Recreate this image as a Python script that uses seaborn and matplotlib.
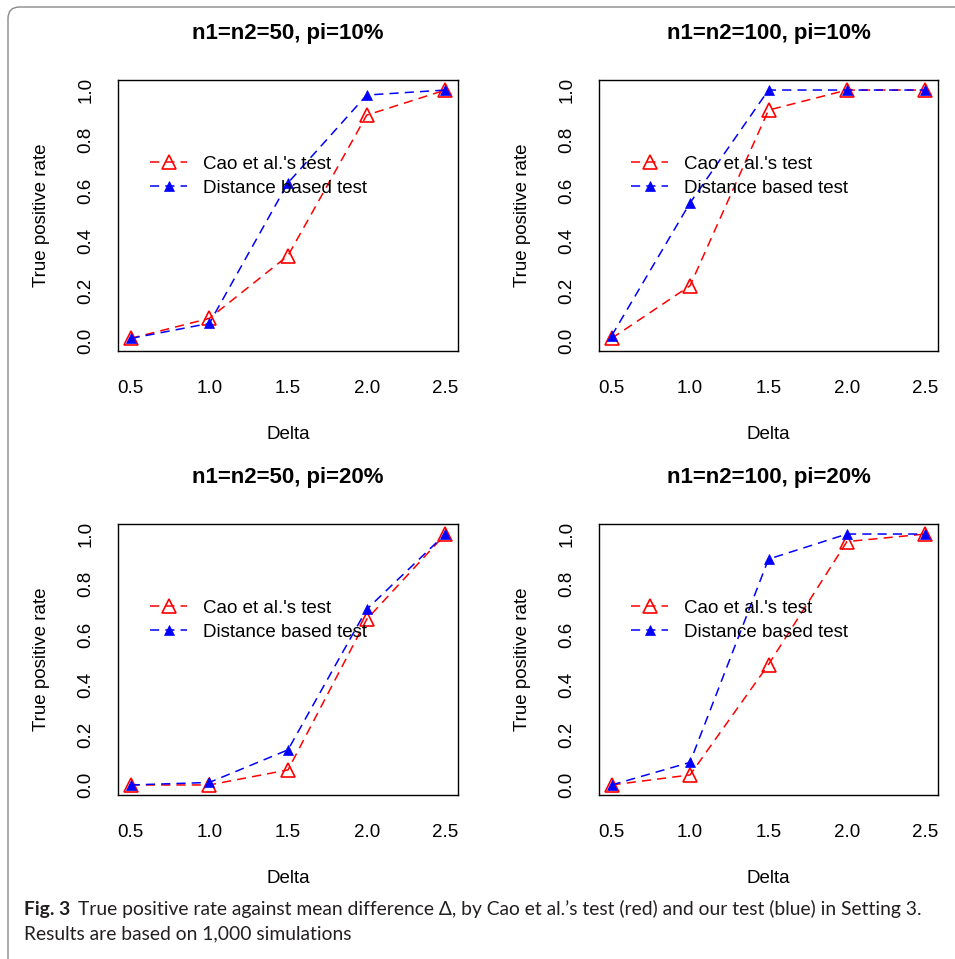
import numpy as np
import pandas as pd
import matplotlib
matplotlib.use("Agg")
import matplotlib.pyplot as plt
from matplotlib.patches import FancyBboxPatch
import seaborn as sns

# Simulation settings and results
delta = [0.5, 1.0, 1.5, 2.0, 2.5]
titles = ["n1=n2=50, pi=10%", "n1=n2=100, pi=10%",
          "n1=n2=50, pi=20%", "n1=n2=100, pi=20%"]
cao_tpr = [
    [0.01, 0.09, 0.34, 0.90, 1.00],
    [0.01, 0.22, 0.92, 1.00, 1.00],
    [0.00, 0.00, 0.06, 0.66, 1.00],
    [0.00, 0.04, 0.48, 0.97, 1.00],
]
dist_tpr = [
    [0.01, 0.07, 0.63, 0.98, 1.00],
    [0.02, 0.55, 1.00, 1.00, 1.00],
    [0.00, 0.01, 0.14, 0.70, 1.00],
    [0.00, 0.09, 0.90, 1.00, 1.00],
]
series_names = ["Cao et al.'s test", "Distance based test"]
x_ticks = [0.5, 1.0, 1.5, 2.0, 2.5]
y_ticks = [0.0, 0.2, 0.4, 0.6, 0.8, 1.0]

sns.set_style("white")
plt.rcParams["font.family"] = ["Liberation Sans", "DejaVu Sans"]

W, H = 955, 959
fig = plt.figure(figsize=(W / 100, H / 100), dpi=100)

# Frame around the figure and caption
frame = FancyBboxPatch((8 / W, 1 - 1000 / H), 1.2, (1000 - 7) / H,
                       boxstyle="round,pad=0,rounding_size=0.012",
                       transform=fig.transFigure, fill=False,
                       edgecolor="#8a8a8a", linewidth=1.0, clip_on=False)
fig.patches.append(frame)

# Panel rectangles in pixels: left, top, right, bottom
rects = [(118, 80, 458, 351), (599, 80, 938, 351),
         (118, 524, 458, 795), (599, 524, 938, 795)]

FS = 13.5
dash = (0, (6, 4))
for i, (l, t, r, b) in enumerate(rects):
    ax = fig.add_axes([l / W, 1 - b / H, (r - l) / W, (b - t) / H])
    df = pd.DataFrame({"Delta": delta * 2,
                       "rate": cao_tpr[i] + dist_tpr[i],
                       "test": [series_names[0]] * 5 + [series_names[1]] * 5})
    sns.lineplot(data=df[df.test == series_names[0]], x="Delta", y="rate",
                 ax=ax, color="red", marker="^", markersize=10,
                 markerfacecolor="none", markeredgecolor="red",
                 markeredgewidth=1.2, linestyle=dash, linewidth=1.1,
                 label=series_names[0])
    sns.lineplot(data=df[df.test == series_names[1]], x="Delta", y="rate",
                 ax=ax, color="blue", marker="^", markersize=7.5,
                 markerfacecolor="blue", markeredgecolor="blue",
                 markeredgewidth=0.5, linestyle=dash, linewidth=1.1,
                 label=series_names[1])
    ax.set_xlim(0.42, 2.58)
    ax.set_ylim(-0.04, 1.04)
    ax.set_xticks(x_ticks)
    ax.set_xticklabels([f"{v:.1f}" for v in x_ticks])
    ax.set_yticks(y_ticks)
    ax.set_yticklabels([f"{v:.1f}" for v in y_ticks], rotation=90, va="center")
    ax.tick_params(axis="both", direction="out", length=8, width=1.0,
                   color="black", labelsize=FS, labelcolor="black")
    ax.tick_params(axis="x", pad=13)
    ax.tick_params(axis="y", pad=9)
    for s in ax.spines.values():
        s.set_visible(True)
        s.set_color("black")
        s.set_linewidth(1.0)
    ax.set_xlabel("Delta", fontsize=FS, labelpad=21, color="black")
    ax.set_ylabel("True positive rate", fontsize=FS, labelpad=20, color="black")
    ax.set_title(titles[i], fontsize=16, fontweight="bold", pad=29.5, color="black")
    leg = ax.legend(loc="upper left", bbox_to_anchor=(0.094, 0.72),
                    frameon=False, fontsize=FS, handlelength=2.0,
                    handletextpad=0.85, labelspacing=0.36, borderpad=0,
                    borderaxespad=0)
    for txt in leg.get_texts():
        txt.set_color("black")

# Caption
cap_font = ["Lato", "DejaVu Sans"]
cap_fs = 13.9
cap_col = "#231f20"
renderer = fig.canvas.get_renderer()
t1 = fig.text(24 / W, 1 - 909 / H, "Fig. 3", fontsize=cap_fs, fontweight="bold",
              family=cap_font, va="center", color=cap_col)
ext = t1.get_window_extent(renderer)
fig.text(ext.x1 / W + 8 / W, 1 - 909 / H,
         "True positive rate against mean difference Δ, by Cao et al.’s test (red) "
         "and our test (blue) in Setting 3.",
         fontsize=cap_fs, family=cap_font, va="center", color=cap_col)
fig.text(24 / W, 1 - 934 / H, "Results are based on 1,000 simulations",
         fontsize=cap_fs, family=cap_font, va="center", color=cap_col)

fig.savefig("out.png", dpi=100)
